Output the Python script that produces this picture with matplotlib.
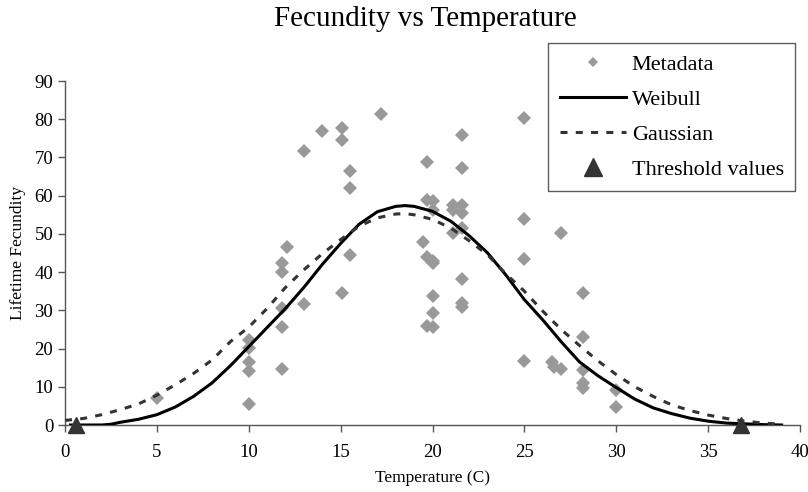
import matplotlib
matplotlib.use("Agg")
import matplotlib.pyplot as plt
from matplotlib.lines import Line2D

# ---- data ----
meta_x = [5.0,
          10.0, 10.0, 10.0, 10.0, 10.0,
          11.8, 11.8, 11.8, 11.8, 11.8, 12.1,
          13.0, 13.0, 14.0,
          15.1, 15.1, 15.1, 15.5, 15.5, 15.5,
          17.2,
          19.5, 19.7, 19.7, 19.7, 19.7,
          20.0, 20.0, 20.0, 20.0, 20.0, 20.0, 20.0,
          21.1, 21.1, 21.1,
          21.6, 21.6, 21.6, 21.6, 21.6, 21.6, 21.6, 21.6,
          25.0, 25.0, 25.0, 25.0,
          26.5, 26.6, 27.0, 27.0,
          28.2, 28.2, 28.2, 28.2, 28.2,
          30.0, 30.0]
meta_y = [7.1,
          5.5, 14.0, 16.5, 20.2, 22.3,
          14.7, 25.7, 30.6, 40.0, 42.4, 46.6,
          31.7, 71.7, 77.0,
          34.6, 74.6, 77.8, 44.6, 62.0, 66.5,
          81.4,
          47.9, 68.9, 58.9, 44.0, 25.9,
          58.6, 56.3, 43.0, 42.4, 33.8, 29.3, 25.7,
          57.6, 56.3, 50.3,
          75.8, 67.3, 57.6, 55.5, 51.6, 38.2, 31.9, 30.9,
          80.4, 53.9, 43.5, 16.8,
          16.5, 15.2, 50.3, 14.7,
          34.6, 23.0, 14.4, 11.0, 9.7,
          9.2, 4.7]

weibull_x = [0.3, 1, 2, 2.5, 3, 4, 5, 6, 7, 8, 9, 10, 11, 12, 13, 14, 15, 16, 17,
             18, 18.5, 19, 20, 21, 22, 23, 24, 25, 26, 27, 28, 29, 30, 31, 32,
             33, 34, 35, 36, 37, 38, 39]
weibull_y = [0.0, 0.0, 0.0, 0.2, 0.7, 1.5, 2.7, 4.7, 7.5, 11.0, 15.5, 20.5, 25.5,
             30.5, 36.0, 42.0, 47.5, 52.5, 55.8, 57.2, 57.4, 57.2, 55.9, 53.3,
             49.5, 45.0, 39.2, 32.8, 27.5, 21.8, 16.5, 12.9, 9.8, 6.8, 4.5, 3.0,
             1.8, 1.0, 0.5, 0.3, 0.1, 0.0]

gauss_x = [0, 1, 2, 3, 4, 5, 6, 7, 8, 9, 10, 11, 12, 13, 14, 15, 16, 17, 18,
           18.5, 19, 20, 21, 22, 23, 24, 25, 26, 27, 28, 29, 30, 31, 32, 33, 34,
           35, 36, 37, 38, 39]
gauss_y = [1.2, 1.7, 2.7, 4.0, 5.5, 7.8, 10.5, 13.5, 17.0, 21.8, 25.6, 30.5,
           36.0, 40.6, 44.8, 48.5, 52.0, 54.2, 55.2, 55.3, 55.0, 53.8, 51.5,
           48.2, 44.5, 39.5, 35.0, 29.8, 25.0, 20.8, 16.8, 13.2, 10.0, 7.5, 5.3,
           3.8, 2.6, 1.7, 1.0, 0.5, 0.2]

threshold_x = [0.6, 36.8]
threshold_y = [0, 0]

x_ticks = [0, 5, 10, 15, 20, 25, 30, 35, 40]
y_ticks = [0, 10, 20, 30, 40, 50, 60, 70, 80, 90]

# ---- styling ----
plt.rcParams['font.family'] = ['Liberation Serif', 'DejaVu Serif']

fig = plt.figure(figsize=(8.08, 4.92), dpi=100)
ax = fig.add_axes([65/808, 1-425/492, (800-65)/808, (425-81)/492])

ax.plot(meta_x, meta_y, linestyle='none', marker='D', markersize=7,
        color='#999999', markeredgewidth=0, zorder=2)
ax.plot(weibull_x, weibull_y, color='black', linewidth=2.2, zorder=3)
ax.plot(gauss_x, gauss_y, color='#333333', linewidth=2.2,
        linestyle=(0, (2.3, 2.7)), zorder=3)
ax.plot(threshold_x, threshold_y, linestyle='none', marker='^', markersize=12,
        color='#333333', zorder=4, clip_on=False)

ax.set_xlim(0, 40)
ax.set_ylim(0, 90)
ax.set_xticks(x_ticks)
ax.set_yticks(y_ticks)
ax.tick_params(axis='both', labelsize=13.5, direction='out', length=5, width=1,
               color='#555555')
ax.tick_params(axis='x', pad=8.5)
for s in ['top', 'right']:
    ax.spines[s].set_visible(False)
for s in ['left', 'bottom']:
    ax.spines[s].set_color('#555555')
    ax.spines[s].set_linewidth(1)

ax.set_xlabel('Temperature (C)', fontsize=12.5, labelpad=7)
ax.set_ylabel('Lifetime Fecundity', fontsize=12.5, labelpad=6)
fig.text(425/808, 1-19/492, 'Fecundity vs Temperature', fontsize=21,
         ha='center', va='center')

handles = [
    Line2D([], [], linestyle='none', marker='D', markersize=5, color='#999999',
           markeredgewidth=0),
    Line2D([], [], color='black', linewidth=2.2),
    Line2D([], [], color='#333333', linewidth=2.2, linestyle=(0, (2.3, 2.7))),
    Line2D([], [], linestyle='none', marker='^', markersize=13, color='#333333'),
]
labels = ['Metadata', 'Weibull', 'Gaussian', 'Threshold values']
leg = fig.legend(handles, labels, loc='upper right',
                 bbox_to_anchor=(795/808, 1-43/492),
                 bbox_transform=fig.transFigure, fontsize=16,
                 frameon=True, fancybox=False, handlelength=3.0,
                 handletextpad=0.25, borderpad=0.5, labelspacing=0.65,
                 borderaxespad=0)
leg.get_frame().set_edgecolor('#333333')
leg.get_frame().set_linewidth(1)

fig.savefig('out.png', dpi=100)
